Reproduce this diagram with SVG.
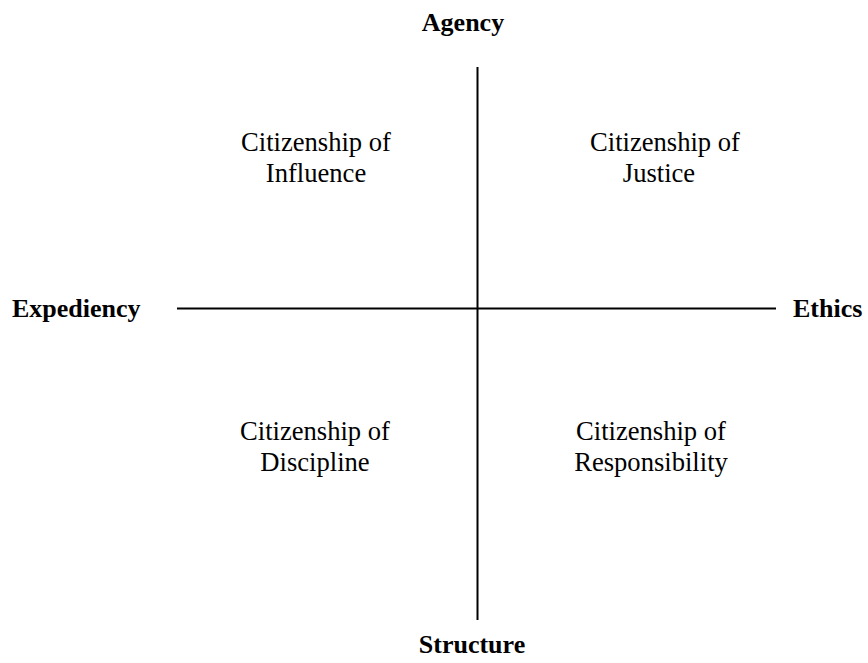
<svg xmlns="http://www.w3.org/2000/svg" width="868" height="663" viewBox="0 0 868 663">
  <style>
    .axis { stroke: #000; stroke-width: 2; fill: none; }
    .pole { font-family: "Liberation Serif", "Times New Roman", serif; font-size: 26px; font-weight: bold; fill: #000; }
    .quad { font-family: "Liberation Serif", "Times New Roman", serif; font-size: 26.6px; fill: #000; text-anchor: middle; }
  </style>
  <rect width="868" height="663" fill="#fff"/>

  <!-- Axes -->
  <g id="connectors">
    <line class="axis" x1="477.5" y1="67" x2="477.5" y2="620"/>
    <line class="axis" x1="177" y1="308.5" x2="776" y2="308.5"/>
  </g>

  <!-- Axis poles -->
  <g id="agency"><text class="pole" x="463" y="31" text-anchor="middle">Agency</text></g>
  <g id="structure"><text class="pole" x="472" y="653" text-anchor="middle">Structure</text></g>
  <g id="expediency"><text class="pole" x="12" y="317">Expediency</text></g>
  <g id="ethics"><text class="pole" x="793" y="317">Ethics</text></g>

  <!-- Quadrants -->
  <g id="influence">
    <text class="quad" x="316" y="151">Citizenship of</text>
    <text class="quad" x="316" y="182">Influence</text>
  </g>
  <g id="justice">
    <text class="quad" x="665" y="151">Citizenship of</text>
    <text class="quad" x="659" y="182">Justice</text>
  </g>
  <g id="discipline">
    <text class="quad" x="315" y="440">Citizenship of</text>
    <text class="quad" x="315" y="471">Discipline</text>
  </g>
  <g id="responsibility">
    <text class="quad" x="651" y="440">Citizenship of</text>
    <text class="quad" x="651" y="471">Responsibility</text>
  </g>
</svg>
